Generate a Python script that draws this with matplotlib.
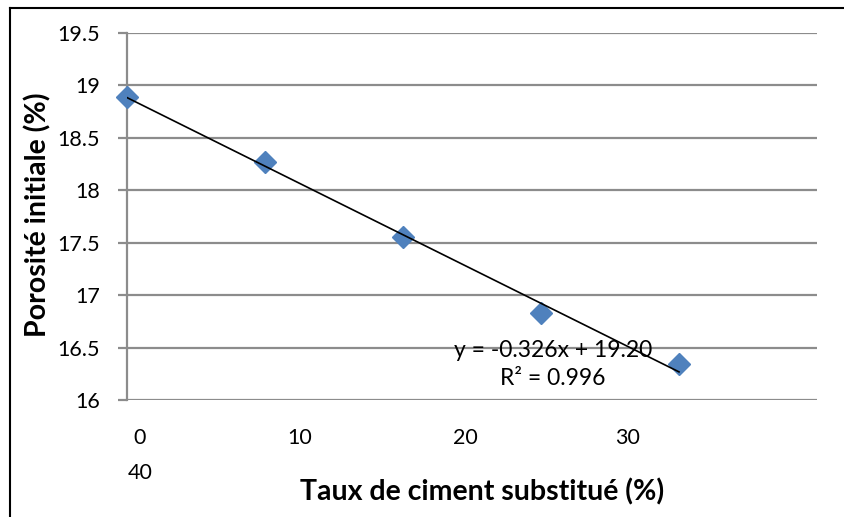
import numpy as np
import matplotlib.pyplot as plt
from matplotlib.lines import Line2D

# Taux de ciment substitué (%) vs porosité initiale (%)
taux = [0, 8, 16, 24, 32]
porosite = [18.89, 18.27, 17.55, 16.83, 16.34]

xtick_pos = [0.75, 10.0, 19.6, 29.0]
xtick_labels = ["0\n40", "10", "20", "30"]
ytick_vals = [16, 16.5, 17, 17.5, 18, 18.5, 19, 19.5]
ytick_labels = ["16", "16.5", "17", "17.5", "18", "18.5", "19", "19.5"]

equation = "y = -0.326x + 19.20\nR² = 0.996"

plt.rcParams["font.family"] = ["Lato", "DejaVu Sans"]

fig = plt.figure(figsize=(8.45, 5.17), dpi=100)
ax = fig.add_axes([127 / 845, 117 / 517, 690 / 845, 367 / 517])

grid_col = "#8c8c8c"
ax.set_xlim(0, 40)
ax.set_ylim(16, 19.5)
ax.set_yticks(ytick_vals, ytick_labels)
ax.set_xticks(xtick_pos, xtick_labels)
ax.yaxis.grid(True, color=grid_col, linewidth=1.6)
ax.set_axisbelow(True)
for s in ["top", "right", "bottom"]:
    ax.spines[s].set_visible(False)
ax.spines["left"].set_color(grid_col)
ax.spines["left"].set_linewidth(1.6)
ax.tick_params(axis="y", length=6.5, width=1.6, color=grid_col, pad=13, labelsize=15.5)
ax.tick_params(axis="x", length=0, pad=20, labelsize=15.5)
for lab in ax.get_xticklabels():
    lab.set_linespacing(1.95)

# trend line (least squares)
coef = np.polyfit(taux, porosite, 1)
xx = np.array([taux[0], taux[-1]])
ax.plot(taux, porosite, linestyle="none", marker="D", markersize=11,
        color="#4f81bd", zorder=4, clip_on=False)
ax.plot(xx, np.polyval(coef, xx), color="black", linewidth=1.2, zorder=5)

ax.text(24.7, 16.335, equation, ha="center", va="center", fontsize=16.5,
        linespacing=1.4, zorder=6)

ax.set_xlabel("Taux de ciment substitué (%)", fontsize=20.5, fontweight="bold")
ax.xaxis.set_label_coords((482 - 127) / 690, -78 / 367)
ax.set_ylabel("Porosité initiale (%)", fontsize=20.5, fontweight="bold")
ax.yaxis.set_label_coords(-(127 - 38) / 690, (517 - 215 - 117) / 367)
ax.yaxis.label.set_verticalalignment("center")

# chart frame
fig.add_artist(Line2D([10 / 845, 10 / 845], [0, 1 - 8 / 517], color="black", linewidth=1.5))
fig.add_artist(Line2D([10 / 845, 1], [1 - 8 / 517, 1 - 8 / 517], color="black", linewidth=1.5))

fig.savefig("out.png", dpi=100)
